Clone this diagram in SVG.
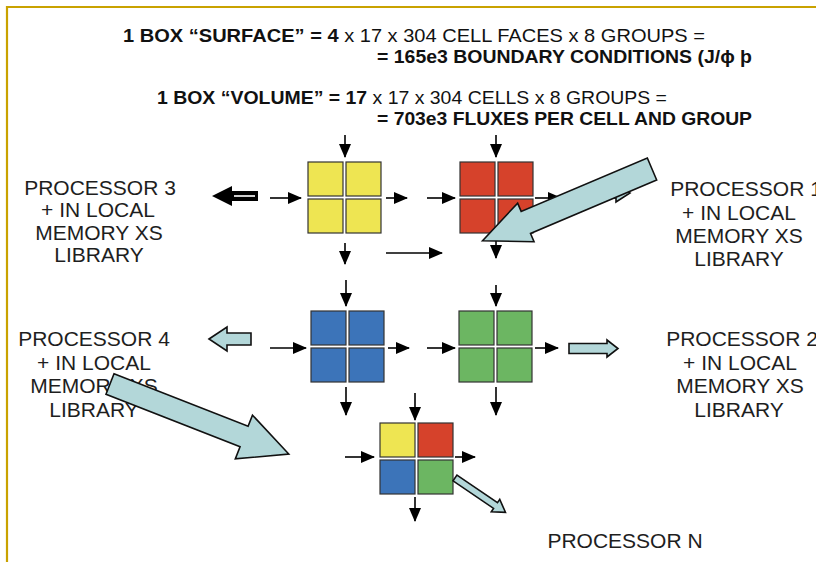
<svg xmlns="http://www.w3.org/2000/svg" width="816" height="562" viewBox="0 0 816 562">
  <style>
    .hdr { font-family: "Liberation Sans", Arial, sans-serif; font-size: 19px; fill: #111; }
    .b { font-weight: bold; }
    .lbl { font-family: "Liberation Sans", Arial, sans-serif; font-size: 21px; fill: #1e1e1e; text-anchor: middle; }
    .cell { stroke: #333; stroke-width: 1.2; }
    .y { fill: #eee552; }
    .r { fill: #d6422b; }
    .bl { fill: #3c74b9; }
    .g { fill: #6cb662; }
    .flow { stroke: #000; stroke-width: 1.6; fill: none; marker-end: url(#head); }
    .xfer { fill: #b3d7d9; stroke: #111; stroke-width: 1.6; stroke-linejoin: miter; }
  </style>
  <defs>
    <marker id="head" markerUnits="userSpaceOnUse" markerWidth="14" markerHeight="12" refX="13" refY="6" orient="auto">
      <path d="M0,0 L14,6 L0,12 z" fill="#000"/>
    </marker>
  </defs>

  <rect width="816" height="562" fill="#fff"/>
  <!-- frame -->
  <path d="M7,562 V7 H816" fill="none" stroke="#c9a200" stroke-width="2.2"/>

  <g id="header">
    <text class="hdr" x="123" y="42" textLength="582" lengthAdjust="spacingAndGlyphs"><tspan class="b">1 BOX “SURFACE” = 4</tspan> x 17 x 304 CELL FACES x 8 GROUPS =</text>
    <text class="hdr b" x="377" y="63" textLength="375" lengthAdjust="spacingAndGlyphs">= 165e3 BOUNDARY CONDITIONS (J/ϕ þ</text>
    <text class="hdr" x="157" y="104" textLength="510" lengthAdjust="spacingAndGlyphs"><tspan class="b">1 BOX “VOLUME” = 17</tspan> x 17 x 304 CELLS x 8 GROUPS =</text>
    <text class="hdr b" x="377" y="125" textLength="375" lengthAdjust="spacingAndGlyphs">= 703e3 FLUXES PER CELL AND GROUP</text>
  </g>

  <g id="proc3">
    <text class="lbl" x="100" y="195">PROCESSOR 3</text>
    <text class="lbl" x="98" y="217">+ IN LOCAL</text>
    <text class="lbl" x="99" y="240">MEMORY XS</text>
    <text class="lbl" x="99" y="262">LIBRARY</text>
  </g>
  <g id="proc1">
    <text class="lbl" x="746" y="196">PROCESSOR 1</text>
    <text class="lbl" x="739" y="220">+ IN LOCAL</text>
    <text class="lbl" x="739" y="243">MEMORY XS</text>
    <text class="lbl" x="739" y="266">LIBRARY</text>
  </g>
  <g id="proc4">
    <text class="lbl" x="94" y="346">PROCESSOR 4</text>
    <text class="lbl" x="94" y="370">+ IN LOCAL</text>
    <text class="lbl" x="94" y="393">MEMORY XS</text>
    <text class="lbl" x="94" y="417">LIBRARY</text>
  </g>
  <g id="proc2">
    <text class="lbl" x="742" y="346">PROCESSOR 2</text>
    <text class="lbl" x="740" y="370">+ IN LOCAL</text>
    <text class="lbl" x="740" y="393">MEMORY XS</text>
    <text class="lbl" x="739" y="417">LIBRARY</text>
  </g>
  <g id="procN">
    <text class="lbl" x="625" y="548">PROCESSOR N</text>
  </g>

  <g id="box-yellow">
    <rect class="cell y" x="308" y="162" width="35" height="34"/>
    <rect class="cell y" x="346" y="162" width="35" height="34"/>
    <rect class="cell y" x="308" y="199" width="35" height="34"/>
    <rect class="cell y" x="346" y="199" width="35" height="34"/>
  </g>
  <g id="box-red">
    <rect class="cell r" x="460" y="162" width="35" height="34"/>
    <rect class="cell r" x="498" y="162" width="35" height="34"/>
    <rect class="cell r" x="460" y="199" width="35" height="34"/>
    <rect class="cell r" x="498" y="199" width="35" height="34"/>
  </g>
  <g id="box-blue">
    <rect class="cell bl" x="311" y="311" width="35" height="34"/>
    <rect class="cell bl" x="349" y="311" width="35" height="34"/>
    <rect class="cell bl" x="311" y="348" width="35" height="34"/>
    <rect class="cell bl" x="349" y="348" width="35" height="34"/>
  </g>
  <g id="box-green">
    <rect class="cell g" x="459" y="311" width="35" height="34"/>
    <rect class="cell g" x="497" y="311" width="35" height="34"/>
    <rect class="cell g" x="459" y="348" width="35" height="34"/>
    <rect class="cell g" x="497" y="348" width="35" height="34"/>
  </g>
  <g id="box-mixed">
    <rect class="cell y" x="380" y="423" width="35" height="34"/>
    <rect class="cell r" x="418" y="423" width="35" height="34"/>
    <rect class="cell bl" x="380" y="460" width="35" height="34"/>
    <rect class="cell g" x="418" y="460" width="35" height="34"/>
  </g>

  <g id="connectors">
    <!-- sweep arrows around each box -->
    <path class="flow" d="M345,135 V157"/>
    <path class="flow" d="M270,198 H301"/>
    <path class="flow" d="M386,198 H407"/>
    <path class="flow" d="M345,243 V264"/>
    <path class="flow" d="M386,253 H442"/>

    <path class="flow" d="M496,135 V157"/>
    <path class="flow" d="M427,198 H455"/>
    <path class="flow" d="M496,238 V258"/>
    <path class="flow" d="M535,198 H561"/>

    <path class="flow" d="M346,280 V306"/>
    <path class="flow" d="M270,348 H306"/>
    <path class="flow" d="M388,348 H409"/>
    <path class="flow" d="M346,387 V415"/>

    <path class="flow" d="M496,285 V306"/>
    <path class="flow" d="M427,348 H455"/>
    <path class="flow" d="M496,387 V415"/>
    <path class="flow" d="M535,348 H558"/>

    <path class="flow" d="M415,393 V420"/>
    <path class="flow" d="M345,457 H374"/>
    <path class="flow" d="M455,457 H475"/>
    <path class="flow" d="M415,497 V521"/>

    <!-- exchange with processor 3 -->
    <path d="M212,196 L232,186 V191 H258 V201 H232 V206 z" fill="#000"/>
    <path d="M234,196 H255" stroke="#cfcfcf" stroke-width="2"/>
    <!-- exchange with processor 4 -->
    <path class="xfer" d="M209,339 L227,327 V333 H251 V345 H227 V351 z"/>
    <!-- exchange with processor 2 -->
    <path class="xfer" d="M569,343.5 H607 V340 L618,348.5 L607,357 V353.5 H569 z"/>
    <!-- exchange with processor 1 -->
    <path class="xfer" d="M578,188 H616 V184 L630,193 L616,202 V198 H578 z"/>
    <!-- mixed box hand-off -->
    <path class="xfer" transform="translate(455,478) rotate(34.2)" d="M0,-3.5 H49 V-7.5 L61,0 L49,7.5 V3.5 H0 z"/>

    <!-- large transfer arrows -->
    <path class="xfer" transform="translate(652,169) rotate(157.05)" d="M0,-12 H137 V-21 L184,0 L137,21 V12 H0 z"/>
    <path class="xfer" transform="translate(110,384) rotate(21.4)" d="M0,-11 H144 V-23 L192,0 L144,24 V11 H0 z"/>
  </g>
</svg>
